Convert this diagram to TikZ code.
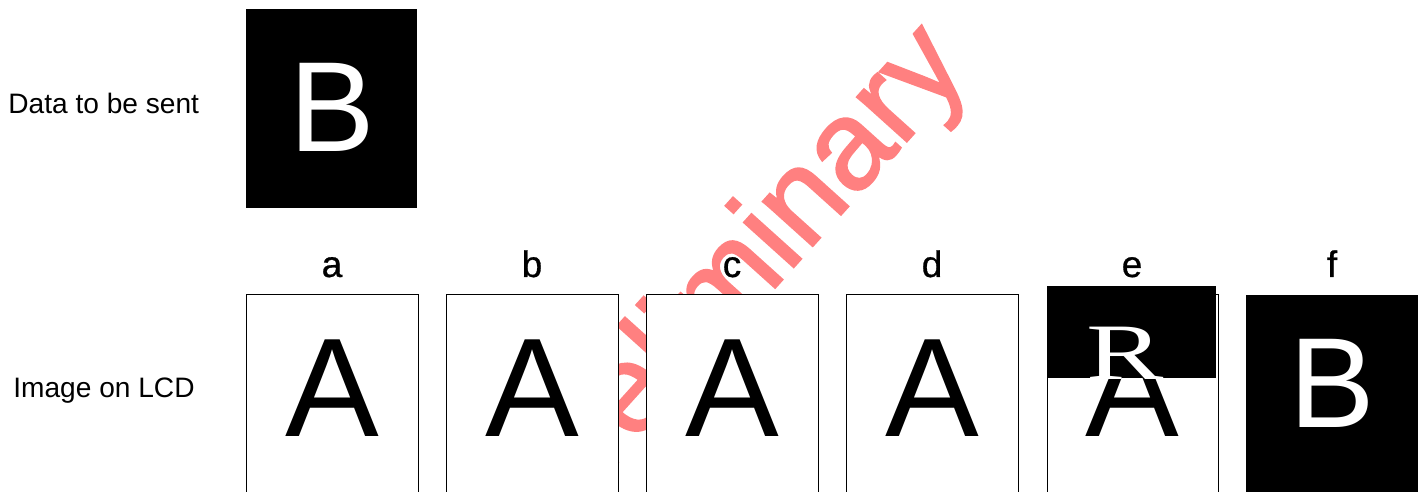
\documentclass[tikz,border=0pt]{standalone}
\usepackage{graphicx}
\usepackage{fontspec}
\setmainfont{Liberation Sans}
\newfontfamily\serifR{Liberation Serif}
\newfontfamily\wmfont[FakeBold=1.6]{Liberation Sans}
\newfontfamily\tagfont[FakeBold=0.8]{Liberation Sans}
\begin{document}
\begin{tikzpicture}[x=0.02cm,y=-0.02cm,
  caption/.style={anchor=base west,inner sep=0,font=\fontsize{16}{19}\selectfont},
  tag/.style={anchor=base,inner sep=0,font=\tagfont\fontsize{21}{25}\selectfont},
  bigA/.style={anchor=base,inner sep=0,font=\fontsize{80}{80}\selectfont},
  bigB/.style={anchor=base,inner sep=0,text=white,font=\fontsize{73}{73}\selectfont},
  panel/.style={draw=black,fill=white,line width=0.5pt}]
\useasboundingbox (0,0) rectangle (1426,492);
\clip (0,0) rectangle (1426,492);

% watermark, behind the panels
\node[anchor=base west,inner sep=0,rotate=48,text=red!50,
  font=\wmfont\fontsize{72}{72}\selectfont] (wm) at (548,540) {Preliminary};

\node[caption] (sent) at (8,114) {Data to be sent};
\node[caption] (lcd) at (13,398) {Image on LCD};

\fill (246,9) rectangle (417,208);
\node[bigB] (Bsent) at (332,152) {B};

\foreach \p/\x in {a/332,b/532,c/732,d/932} {
  \draw[panel] (\x-86,294) rectangle (\x+86,520);
  \node[bigA] (A\p) at (\x,437) {A};
  \node[tag] (\p) at (\x,277) {\p};
}

% e: half written
\draw[panel] (1047,294) rectangle (1218,520);
\node[bigA] (Ae) at (1132,437) {A};
\fill (1047,286) rectangle (1216,378);
\node[anchor=base,inner sep=0,text=white,font=\serifR\fontsize{66}{66}\selectfont]
  (Re) at (1125,380) {\scalebox{1}[0.69]{R}};
\node[tag] (e) at (1132,277) {e};

% f: done
\fill (1246,295) rectangle (1418,520);
\node[bigB] (Bf) at (1332,428) {B};
\node[tag] (f) at (1332,277) {f};
\end{tikzpicture}
\end{document}
